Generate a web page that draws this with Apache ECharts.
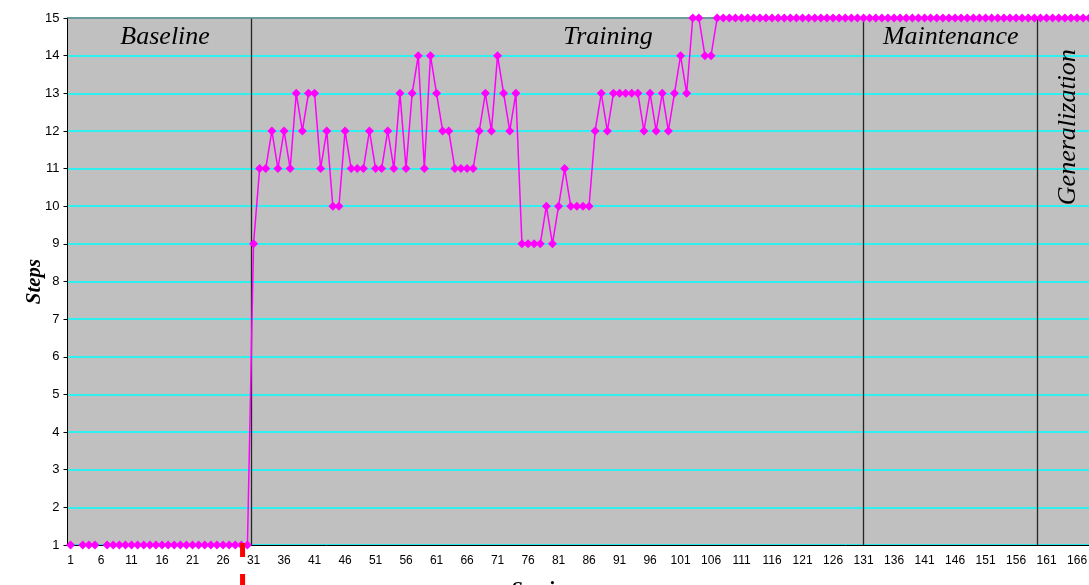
<!DOCTYPE html>
<html>
<head>
<meta charset="utf-8">
<script src="https://cdn.jsdelivr.net/npm/echarts@6/dist/echarts.min.js"></script>
<style>
  html, body { margin: 0; padding: 0; background: #fff; overflow: hidden; }
</style>
</head>
<body>
<div id="main" style="width: 1120px; height: 585px"></div>
<script>
// session numbers along the x axis
var sessionCount = 170;
var sessions = Array.from({ length: sessionCount }, (_, i) => String(i + 1));

// steps completed per session (null = no session recorded)
var steps = [
  1, null, 1, 1, 1, null, 1, 1, 1, 1,
  1, 1, 1, 1, 1, 1, 1, 1, 1, 1,
  1, 1, 1, 1, 1, 1, 1, 1, 1, 1,
  9, 11, 11, 12, 11, 12, 11, 13, 12, 13,
  13, 11, 12, 10, 10, 12, 11, 11, 11, 12,
  11, 11, 12, 11, 13, 11, 13, 14, 11, 14,
  13, 12, 12, 11, 11, 11, 11, 12, 13, 12,
  14, 13, 12, 13, 9, 9, 9, 9, 10, 9,
  10, 11, 10, 10, 10, 10, 12, 13, 12, 13,
  13, 13, 13, 13, 12, 13, 12, 13, 12, 13,
  14, 13, 15, 15, 14, 14, 15, 15, 15, 15,
  15, 15, 15, 15, 15, 15, 15, 15, 15, 15,
  15, 15, 15, 15, 15, 15, 15, 15, 15, 15,
  15, 15, 15, 15, 15, 15, 15, 15, 15, 15,
  15, 15, 15, 15, 15, 15, 15, 15, 15, 15,
  15, 15, 15, 15, 15, 15, 15, 15, 15, 15,
  15, 15, 15, 15, 15, 15, 15, 15, 15, 15
];

// phase changes (in session units) and phase titles
var phaseBreaks = [30.7, 131, 159.5];
var phaseNames = ["Baseline", "Training", "Maintenance", "Generalization"];
var phaseLabelX = [16.5, 89.1, 145.3, 164.5];
var phaseLabelY = [14.5, 14.5, 14.5, 12.1];
var markerSession = 29.2;

var yMin = 1;
var yMax = 15;

var chartDom = document.getElementById("main");
var myChart = echarts.init(chartDom);
var option;

option = {
  animation: false,
  grid: {
    left: 67.5,
    top: 18,
    width: 1037,
    bottom: 40,
    show: true,
    backgroundColor: "#C0C0C0",
    borderColor: "#808080",
    borderWidth: 1,
  },
  xAxis: [
    {
      type: "category",
      data: sessions,
      boundaryGap: true,
      axisLine: { lineStyle: { color: "#000", width: 1 } },
      axisTick: { interval: 0, length: 4, lineStyle: { color: "#000" } },
      axisLabel: {
        interval: 4,
        color: "#000",
        fontSize: 12,
        fontFamily: "Liberation Sans",
        margin: 10,
      },
      splitLine: { show: false },
    },
    {
      type: "value",
      min: 0.5,
      max: sessionCount + 0.5,
      show: false,
    },
  ],
  yAxis: {
    type: "value",
    min: yMin,
    max: yMax,
    interval: 1,
    name: "Steps",
    nameLocation: "middle",
    nameGap: 22,
    nameMoveOverlap: false,
    nameTextStyle: {
      fontFamily: "Liberation Serif",
      fontStyle: "italic",
      fontWeight: "bold",
      fontSize: 21,
      color: "#000",
    },
    axisLine: { show: true, lineStyle: { color: "#000", width: 1 } },
    axisTick: { show: true, length: 4, lineStyle: { color: "#000" } },
    axisLabel: {
      color: "#000",
      fontSize: 13,
      fontFamily: "Liberation Sans",
      margin: 8,
    },
    splitLine: { show: true, lineStyle: { color: "#00FFFF", width: 1.5 } },
  },
  series: [
    {
      type: "line",
      xAxisIndex: 1,
      data: [],
      silent: true,
      markLine: {
        silent: true,
        symbol: "none",
        label: { show: false },
        lineStyle: { color: "#262626", width: 1.3, type: "solid" },
        data: phaseBreaks
          .map((b) => ({ xAxis: b }))
          .concat([{ yAxis: yMax, lineStyle: { color: "#808080", width: 1.5 } }]),
      },
    },
    {
      name: "Steps",
      type: "line",
      data: steps,
      connectNulls: false,
      showAllSymbol: true,
      symbol: "diamond",
      symbolSize: 9,
      itemStyle: { color: "#FF00FF" },
      lineStyle: { color: "#FF00FF", width: 1.5 },
      z: 5,
    },
  ],
};

option && myChart.setOption(option);

// phase titles, red marker and x-axis title placed from data positions
var graphics = [];
phaseNames.forEach(function (name, i) {
  var p = myChart.convertToPixel({ xAxisIndex: 1, yAxisIndex: 0 }, [phaseLabelX[i], phaseLabelY[i]]);
  graphics.push({
    type: "text",
    x: p[0],
    y: p[1],
    rotation: i === 3 ? Math.PI / 2 : 0,
    z: 10,
    style: {
      text: name,
      font: "italic 26px 'Liberation Serif'",
      fill: "#000",
      align: "center",
      verticalAlign: "middle",
    },
  });
});

var m = myChart.convertToPixel({ xAxisIndex: 1, yAxisIndex: 0 }, [markerSession, yMin]);
graphics.push({
  type: "line",
  z: 10,
  shape: { x1: m[0], y1: m[1] - 2, x2: m[0], y2: m[1] + 42 },
  style: { stroke: "#FF0000", lineWidth: 5, lineDash: [14, 17] },
});

graphics.push({
  type: "text",
  left: 511,
  top: 580,
  style: {
    text: "Sessions",
    font: "italic bold 21px 'Liberation Serif'",
    fill: "#000",
  },
});

myChart.setOption({ graphic: graphics });
</script>
</body>
</html>
